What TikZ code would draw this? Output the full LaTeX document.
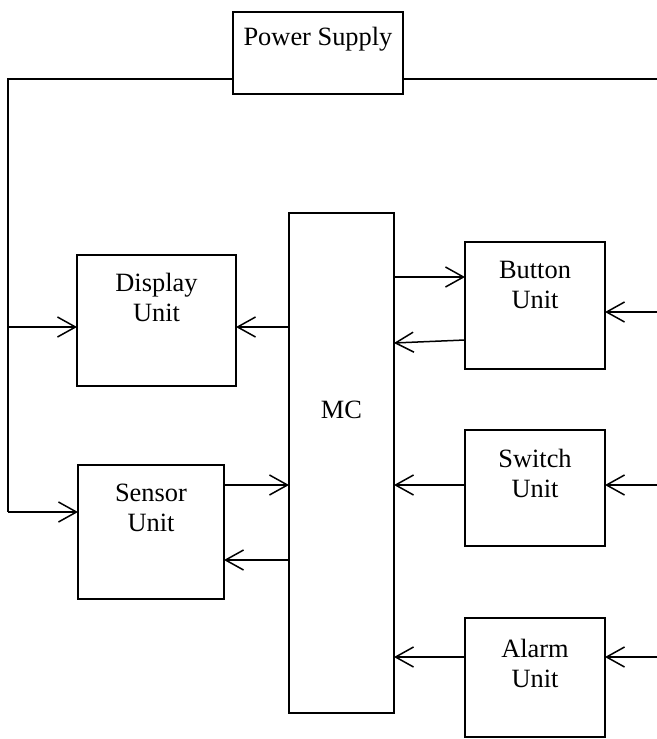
\documentclass[tikz,border=0pt]{standalone}
\usepackage{fontspec}
\setmainfont{Liberation Serif}
\usetikzlibrary{arrows.meta,positioning}

\tikzset{
  blk/.style={draw, rectangle, line width=0.6pt, inner sep=0pt, outer sep=0pt},
  lbl/.style={anchor=north, align=center, inner sep=0pt, font=\fontsize{13.2}{15}\selectfont},
  wire/.style={line width=0.75pt},
  sig/.style={wire, -{Straight Barb[length=9pt,width=10pt]}},
}

\begin{document}
\begin{tikzpicture}[x=0.5pt,y=-0.5pt]
\useasboundingbox (0,0) rectangle (657,739);

% blocks
\node[blk, minimum width=85pt, minimum height=41pt] (ps) at (318,53) {};
\node[blk, minimum width=79.5pt, minimum height=65.5pt] (disp) at (156.5,320.5) {};
\node[blk, minimum width=73pt, minimum height=67pt] (sens) at (151,532) {};
\node[blk, minimum width=52.5pt, minimum height=250pt] (mc) at (341.5,463) {};
\node[blk, minimum width=70pt, minimum height=63.5pt] (btn) at (535,305.5) {};
\node[blk, minimum width=70pt, minimum height=58pt] (sw) at (535,488) {};
\node[blk, minimum width=70pt, minimum height=59.5pt] (alm) at (535,677.5) {};

\node[lbl] at ([yshift=-7.5pt]ps.north) {Power Supply};
\node[lbl] at ([yshift=-9pt]disp.north) {Display\\Unit};
\node[lbl] at ([yshift=-9.5pt]sens.north) {Sensor\\Unit};
\node[lbl, anchor=base] at (341.5,418) {MC};
\node[lbl] at ([yshift=-9.5pt]btn.north) {Button\\Unit};
\node[lbl] at ([yshift=-9.5pt]sw.north) {Switch\\Unit};
\node[lbl] at ([yshift=-10.5pt]alm.north) {Alarm\\Unit};

% signal levels
\coordinate (rail) at (8,79);
\coordinate (railr) at (657,79);
\coordinate (dtap) at (8,327);
\coordinate (stap) at (8,512);
\coordinate (l1) at (0,277);
\coordinate (l2a) at (0,340);
\coordinate (l2b) at (0,343);
\coordinate (l3) at (0,485);
\coordinate (l4) at (0,560);
\coordinate (l5) at (0,657);
\coordinate (bin) at (657,312);
\coordinate (swin) at (657,485);
\coordinate (ain) at (657,657);

% supply rail
\draw[wire] (ps.west |- rail) -- (rail) -- (stap);
\draw[wire] (ps.east |- railr) -- (railr);
\draw[sig] (dtap) -- (disp.west |- dtap);
\draw[sig] (stap) -- (sens.west |- stap);

% MC links
\draw[sig] (mc.west |- dtap) -- (disp.east |- dtap);
\draw[sig] (sens.east |- l3) -- (mc.west |- l3);
\draw[sig] (mc.west |- l4) -- (sens.east |- l4);
\draw[sig] (mc.east |- l1) -- (btn.west |- l1);
\draw[sig] (btn.west |- l2a) -- (mc.east |- l2b);
\draw[sig] (sw.west |- l3) -- (mc.east |- l3);
\draw[sig] (alm.west |- l5) -- (mc.east |- l5);

% outside inputs
\draw[sig] (bin) -- (btn.east |- bin);
\draw[sig] (swin) -- (sw.east |- swin);
\draw[sig] (ain) -- (alm.east |- ain);
\end{tikzpicture}
\end{document}
